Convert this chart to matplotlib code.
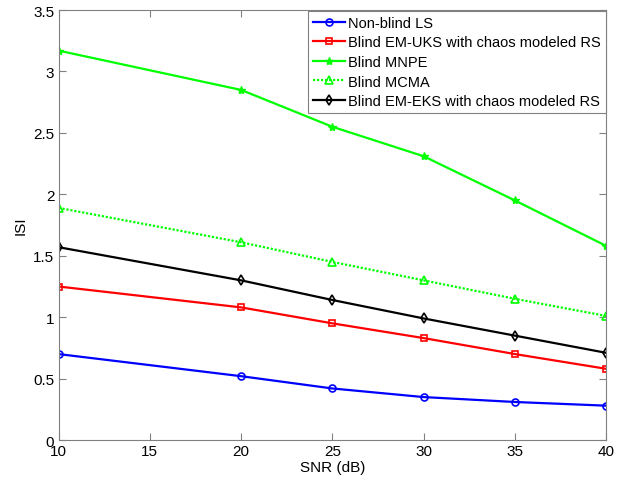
import matplotlib
matplotlib.use("Agg")
import matplotlib.pyplot as plt

plt.rcParams['font.family'] = ['Liberation Sans', 'DejaVu Sans']

snr = [10, 20, 25, 30, 35, 40]
nonblind_ls = [0.70, 0.52, 0.42, 0.35, 0.31, 0.28]
em_uks = [1.25, 1.08, 0.95, 0.83, 0.70, 0.58]
mnpe = [3.17, 2.85, 2.55, 2.31, 1.95, 1.58]
mcma = [1.89, 1.61, 1.45, 1.30, 1.15, 1.01]
em_eks = [1.57, 1.30, 1.14, 0.99, 0.85, 0.71]

fig = plt.figure(figsize=(6.26, 4.81), dpi=100)
ax = fig.add_axes([0.0935, 0.083, 0.875, 0.894])

ax.plot(snr, nonblind_ls, color='#0000ff', marker='o', lw=1.6, ms=5, mfc='none', mew=1.2, label='Non-blind LS')
ax.plot(snr, em_uks, color='#ff0000', marker='s', lw=1.6, ms=4.5, mfc='none', mew=1.2, label='Blind EM-UKS with chaos modeled RS')
ax.plot(snr, mnpe, color='#00ff00', marker='*', lw=1.6, ms=6, label='Blind MNPE')
ax.plot(snr, mcma, color='#00ff00', marker='^', ls=(0, (1, 0.8)), lw=1.6, ms=5.5, mfc='none', mew=1.2, label='Blind MCMA')
ax.plot(snr, em_eks, color='#000000', marker='d', lw=1.6, ms=5.5, mfc='none', mew=1.2, label='Blind EM-EKS with chaos modeled RS')

ax.set_xlim(10, 40)
ax.set_ylim(0, 3.5)
ax.set_xticks([10, 15, 20, 25, 30, 35, 40])
ax.set_yticks([0, 0.5, 1, 1.5, 2, 2.5, 3, 3.5])
ax.set_yticklabels(['0', '0.5', '1', '1.5', '2', '2.5', '3', '3.5'])
ax.set_xlabel('SNR (dB)', fontsize=11, labelpad=1)
ax.set_ylabel('ISI', fontsize=11, labelpad=4)
ax.tick_params(direction='in', top=True, right=True, labelsize=11, color='#808080', length=5, pad=3)
for s in ax.spines.values():
    s.set_color('#808080')

leg = ax.legend(loc='upper right', fontsize=10.5, fancybox=False, framealpha=1,
                edgecolor='#808080', handlelength=2.2, handletextpad=0.2,
                borderpad=0.35, labelspacing=0.38, borderaxespad=0.05)
leg.get_frame().set_linewidth(0.8)

fig.savefig('out.png', dpi=100)
